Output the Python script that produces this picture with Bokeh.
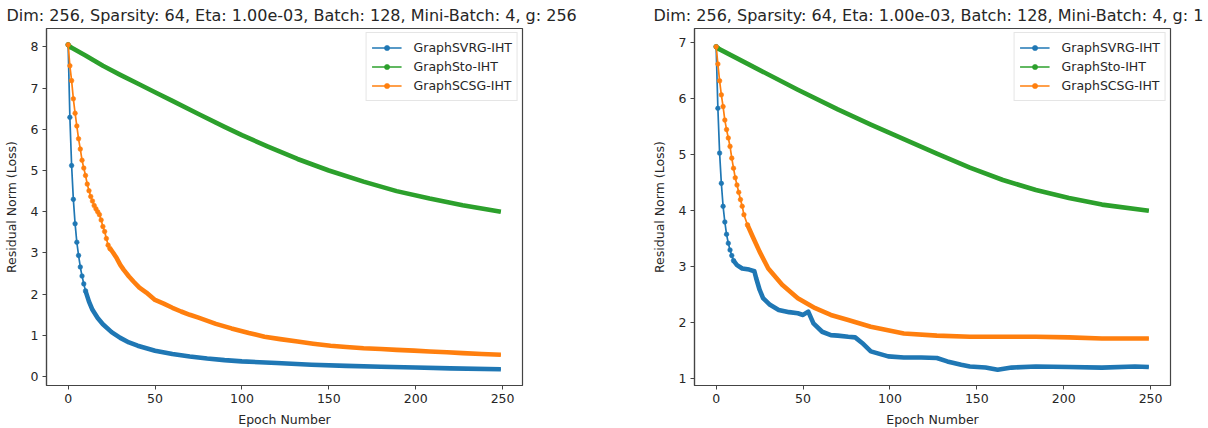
from bokeh.plotting import figure
from bokeh.layouts import row
from bokeh.models import Range1d, Legend, LegendItem, FixedTicker
from bokeh.embed import file_html
from bokeh.resources import INLINE

# ---------------- data ----------------
labels = ["GraphSVRG-IHT", "GraphSto-IHT", "GraphSCSG-IHT"]
x_ticks = [0, 50, 100, 150, 200, 250]
left_y_ticks = [0, 1, 2, 3, 4, 5, 6, 7, 8]
right_y_ticks = [1, 2, 3, 4, 5, 6, 7]
left_title = "Dim: 256, Sparsity: 64, Eta: 1.00e-03, Batch: 128, Mini-Batch: 4, g: 256"
right_title = "Dim: 256, Sparsity: 64, Eta: 1.00e-03, Batch: 128, Mini-Batch: 4, g: 1"

# left panel
svrg_l_epoch = [0, 1, 2, 3, 4, 5, 6, 7, 8, 9, 10, 12, 14, 17, 20, 25, 30, 35, 40, 45, 50,
                60, 70, 80, 90, 100, 120, 140, 160, 180, 200, 220, 249]
svrg_l = [8.05, 6.29, 5.12, 4.30, 3.71, 3.26, 2.94, 2.66, 2.44, 2.25, 2.08, 1.82, 1.62, 1.42,
          1.27, 1.08, 0.94, 0.83, 0.75, 0.69, 0.63, 0.55, 0.49, 0.44, 0.40, 0.37, 0.33, 0.29,
          0.26, 0.24, 0.22, 0.20, 0.18]
sto_l_epoch = [0, 1, 10, 20, 30, 40, 50, 60, 75, 90, 100, 115, 132, 150, 170, 189, 208, 227, 249]
sto_l = [8.05, 8.00, 7.79, 7.54, 7.32, 7.11, 6.90, 6.69, 6.37, 6.06, 5.86, 5.58, 5.28, 5.00,
         4.73, 4.50, 4.32, 4.16, 4.00]
scsg_l_epoch = [0, 1, 2, 3, 4, 5, 6, 7, 8, 9, 10, 11, 12, 13, 14, 15, 16, 17, 18, 19, 20, 21,
                22, 23, 24, 25, 26, 28, 30, 32, 35, 38, 41, 45, 50, 55, 60, 65, 70, 75, 85, 94,
                104, 113, 122, 132, 141, 151, 160, 170, 180, 189, 199, 208, 218, 227, 238, 249]
scsg_l = [8.05, 7.54, 7.18, 6.74, 6.39, 6.08, 5.77, 5.52, 5.25, 5.06, 4.88, 4.67, 4.51, 4.37,
          4.26, 4.15, 4.07, 4.00, 3.93, 3.80, 3.64, 3.52, 3.35, 3.19, 3.11, 3.06, 3.00, 2.87,
          2.71, 2.59, 2.43, 2.29, 2.16, 2.04, 1.86, 1.77, 1.67, 1.58, 1.50, 1.43, 1.28, 1.17,
          1.06, 0.97, 0.91, 0.85, 0.80, 0.75, 0.72, 0.69, 0.67, 0.65, 0.63, 0.61, 0.59, 0.57,
          0.55, 0.53]

# right panel
svrg_r_epoch = [0, 1, 2, 3, 4, 5, 6, 7, 8, 9, 10, 12, 15, 19, 22, 23, 25, 27, 31, 36, 42, 47,
                50, 53, 56, 61, 66, 70, 76, 80, 84, 89, 99, 108, 118, 127, 133, 141, 146, 155,
                162, 170, 184, 203, 222, 241, 249]
svrg_r = [6.92, 5.82, 5.02, 4.48, 4.07, 3.79, 3.57, 3.41, 3.29, 3.19, 3.10, 3.02, 2.96, 2.94,
          2.91, 2.79, 2.58, 2.43, 2.31, 2.22, 2.18, 2.16, 2.13, 2.19, 1.98, 1.83, 1.77, 1.76,
          1.74, 1.73, 1.63, 1.48, 1.39, 1.37, 1.37, 1.36, 1.30, 1.24, 1.21, 1.19, 1.15, 1.19,
          1.21, 1.20, 1.19, 1.21, 1.20]
sto_r_epoch = [0, 1, 19, 47, 70, 89, 108, 127, 146, 165, 184, 203, 222, 249]
sto_r = [6.92, 6.89, 6.60, 6.15, 5.80, 5.53, 5.27, 5.01, 4.76, 4.54, 4.36, 4.22, 4.10, 3.99]
scsg_r_epoch = [0, 1, 2, 3, 4, 5, 6, 7, 8, 9, 10, 11, 12, 13, 14, 15, 16, 18, 21, 25, 30, 38,
                47, 57, 66, 76, 89, 108, 127, 146, 165, 184, 203, 222, 241, 249]
scsg_r = [6.92, 6.61, 6.31, 6.06, 5.85, 5.61, 5.44, 5.29, 5.14, 4.93, 4.75, 4.58, 4.45, 4.32,
          4.19, 4.07, 3.92, 3.74, 3.53, 3.26, 2.96, 2.67, 2.43, 2.25, 2.13, 2.04, 1.92, 1.80,
          1.76, 1.74, 1.74, 1.74, 1.73, 1.71, 1.71, 1.71]

# ---------------- styling ----------------
COLORS = ["#1f77b4", "#2ca02c", "#ff7f0e"]
FONT = "DejaVu Sans"
TXT = "#262626"
SPINE = "#444444"


def panel(title, series, dense_from, y_range, y_ticks, b_left, b_right, title_offset):
    p = figure(frame_width=476, frame_height=357,
               x_range=Range1d(-12.45, 261.45), y_range=Range1d(*y_range),
               output_backend="svg", toolbar_location=None,
               min_border_left=b_left, min_border_right=b_right,
               min_border_top=27, min_border_bottom=44,
               background_fill_color="white", border_fill_color="white")
    p.title.text = title
    p.title.text_font = FONT
    p.title.text_font_size = "16px"
    p.title.text_font_style = "normal"
    p.title.text_color = TXT
    p.title.align = "left"
    p.title.offset = title_offset
    p.title.standoff = 7
    p.grid.visible = False
    p.outline_line_color = SPINE
    p.outline_line_width = 1.2

    p.xaxis.ticker = FixedTicker(ticks=x_ticks)
    p.yaxis.ticker = FixedTicker(ticks=y_ticks)
    p.xaxis.axis_label = "Epoch Number"
    p.yaxis.axis_label = "Residual Norm (Loss)"
    for ax in (p.xaxis, p.yaxis):
        ax.axis_label_text_font = FONT
        ax.axis_label_text_font_size = "12.5px"
        ax.axis_label_text_font_style = "normal"
        ax.axis_label_text_color = TXT
        ax.major_label_text_font = FONT
        ax.major_label_text_font_size = "12.5px"
        ax.major_label_text_color = TXT
        ax.major_label_standoff = 4
        ax.major_tick_in = 0
        ax.major_tick_out = 4
        ax.major_tick_line_color = SPINE
        ax.minor_tick_line_color = None
        ax.axis_line_color = SPINE
        ax.axis_line_width = 1.2
    p.xaxis.axis_label_standoff = 6
    p.yaxis.axis_label_standoff = 9

    items = []
    for (ep, vals), color, label, thr in zip(series, COLORS, labels, dense_from):
        ln = p.line(ep, vals, line_color=color, line_width=1.7)
        dense_ep = [e for e in ep if e >= thr]
        dense_v = [v for e, v in zip(ep, vals) if e >= thr]
        p.line(dense_ep, dense_v, line_color=color, line_width=4.6, line_join="round")
        sp_ep = [e for e in ep if e <= thr]
        sp_v = [v for e, v in zip(ep, vals) if e <= thr]
        sc = p.scatter(sp_ep, sp_v, marker="circle", size=4.6, fill_color=color,
                       line_color=color, line_width=0.6)
        items.append(LegendItem(label=label, renderers=[ln, sc]))

    leg = Legend(items=items, location="top_right")
    leg.label_text_font = FONT
    leg.label_text_font_size = "12.5px"
    leg.label_text_color = TXT
    leg.glyph_width = 30
    leg.glyph_height = 13
    leg.label_height = 19
    leg.label_standoff = 12
    leg.spacing = 0
    leg.padding = 5
    leg.margin = 4
    leg.border_line_color = "#cccccc"
    leg.border_line_width = 1
    leg.background_fill_alpha = 0.8
    p.add_layout(leg)
    return p


p1 = panel(left_title,
           [(svrg_l_epoch, svrg_l), (sto_l_epoch, sto_l), (scsg_l_epoch, scsg_l)],
           [10, 1, 24], (-0.215, 8.445), left_y_ticks, 40, 124, -40)
p2 = panel(right_title,
           [(svrg_r_epoch, svrg_r), (sto_r_epoch, sto_r), (scsg_r_epoch, scsg_r)],
           [10, 1, 18], (0.87, 7.245), right_y_ticks, 48, 36, -41)

layout = row(p1, p2)
open("out.html", "w").write(file_html(layout, INLINE))
